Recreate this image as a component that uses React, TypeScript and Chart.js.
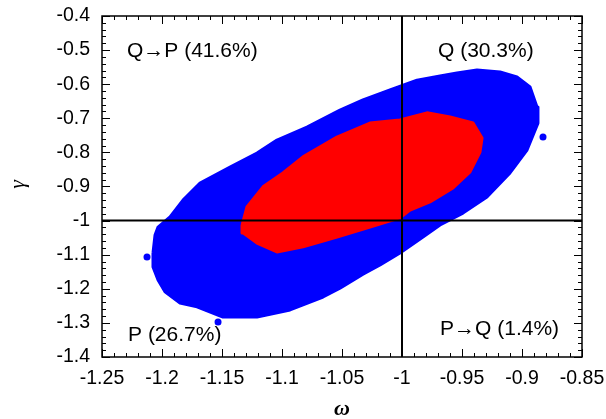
import React, { useEffect, useRef } from "react";
import { Chart, registerables } from "chart.js";

Chart.register(...registerables);

// Axis ticks
const xTickValues = [-1.25, -1.2, -1.15, -1.1, -1.05, -1, -0.95, -0.9, -0.85];
const xTickLabels = ["-1.25", "-1.2", "-1.15", "-1.1", "-1.05", "-1", "-0.95", "-0.9", "-0.85"];
const yTickValues = [-1.4, -1.3, -1.2, -1.1, -1, -0.9, -0.8, -0.7, -0.6, -0.5, -0.4];
const yTickLabels = ["-1.4", "-1.3", "-1.2", "-1.1", "-1", "-0.9", "-0.8", "-0.7", "-0.6", "-0.5", "-0.4"];
const xMinorStep = 0.01;
const yMinorStep = 0.02;

// Outer (blue) sample cloud outline (omega, gamma)
const blueX = [-1.2075, -1.2058, -1.2033, -1.1933, -1.1825, -1.1683, -1.1433, -1.1208, -1.1042, -1.0792, -1.0517, -1.0325, -1.01, -0.9875, -0.9683, -0.9542, -0.9375, -0.9183, -0.9042, -0.8933, -0.8875, -0.8867, -0.8958, -0.91, -0.9292, -0.9492, -0.9683, -0.9825, -1.0017, -1.0183, -1.0325, -1.0517, -1.0658, -1.0933, -1.1208, -1.1492, -1.1708, -1.185, -1.1975, -1.2033, -1.2075];
const blueY = [-1.095, -1.042, -1.019, -0.989, -0.94, -0.89, -0.843, -0.802, -0.764, -0.726, -0.676, -0.646, -0.617, -0.588, -0.576, -0.567, -0.558, -0.564, -0.579, -0.608, -0.667, -0.714, -0.793, -0.86, -0.931, -0.978, -1.013, -1.048, -1.095, -1.13, -1.157, -1.198, -1.224, -1.262, -1.283, -1.283, -1.253, -1.242, -1.209, -1.174, -1.136];

// Inner (red) sample cloud outline
const redX = [-1.1333, -1.1292, -1.1158, -1.0992, -1.0825, -1.0542, -1.0267, -1.0017, -0.9792, -0.96, -0.9408, -0.9333, -0.935, -0.9433, -0.9575, -0.9767, -0.9933, -1.0017, -1.0267, -1.0542, -1.0825, -1.1042, -1.1208, -1.1325];
const redY = [-1.013, -0.96, -0.901, -0.86, -0.813, -0.755, -0.714, -0.705, -0.684, -0.696, -0.714, -0.758, -0.799, -0.857, -0.904, -0.945, -0.969, -0.992, -1.019, -1.048, -1.077, -1.092, -1.066, -1.036];

// Isolated outlying samples
const strayX = [-1.2125, -0.8825, -1.1533];
const strayY = [-1.1067, -0.755, -1.297];

// Quadrant divider lines
const vLineX = [-1, -1];
const vLineY = [-1.4, -0.4];
const hLineX = [-1.25, -0.85];
const hLineY = [-1, -1];

// Quadrant annotations
const noteTexts = ["Q\u2192P (41.6%)", "Q (30.3%)", "P (26.7%)", "P\u2192Q (1.4%)"];
const noteX = [-1.2292, -0.97, -1.2283, -0.9683];
const noteY = [-0.52, -0.52, -1.353, -1.3355];

const SANS = "'Liberation Sans', Arial, Helvetica, sans-serif";
const SERIF = "'Liberation Serif', 'Times New Roman', serif";

const toPts = (xs: number[], ys: number[], close: boolean) => {
  const pts = xs.map((x, i) => ({ x, y: ys[i] }));
  if (close) pts.push({ x: xs[0], y: ys[0] });
  return pts;
};

const decorPlugin = {
  id: "decor",
  afterDraw(chart: any) {
    const { ctx, chartArea: a, scales } = chart;
    const xs = scales.x;
    const ys = scales.y;
    ctx.save();
    ctx.strokeStyle = "#000";
    ctx.lineWidth = 1;
    const seg = (x1: number, y1: number, x2: number, y2: number) => {
      ctx.beginPath();
      ctx.moveTo(x1, y1);
      ctx.lineTo(x2, y2);
      ctx.stroke();
    };
    const nx = Math.round((xs.max - xs.min) / xMinorStep);
    for (let i = 0; i <= nx; i++) {
      const v = xs.min + i * xMinorStep;
      const px = Math.round(xs.getPixelForValue(v)) + 0.5;
      const len = i % 5 === 0 ? 8 : 4;
      seg(px, a.bottom, px, a.bottom - len);
      seg(px, a.top, px, a.top + len);
    }
    const ny = Math.round((ys.max - ys.min) / yMinorStep);
    for (let i = 0; i <= ny; i++) {
      const v = ys.min + i * yMinorStep;
      const py = Math.round(ys.getPixelForValue(v)) + 0.5;
      const len = i % 5 === 0 ? 8 : 4;
      seg(a.left, py, a.left + len, py);
      seg(a.right, py, a.right - len, py);
    }
    ctx.lineWidth = 1.5;
    ctx.strokeRect(a.left, a.top, a.right - a.left, a.bottom - a.top);

    ctx.fillStyle = "#000";
    ctx.font = `21px ${SANS}`;
    ctx.textAlign = "left";
    ctx.textBaseline = "alphabetic";
    noteTexts.forEach((t, i) => {
      ctx.fillText(t, xs.getPixelForValue(noteX[i]), ys.getPixelForValue(noteY[i]));
    });

    ctx.textAlign = "center";
    ctx.textBaseline = "middle";
    ctx.font = `bold italic 22px ${SERIF}`;
    ctx.fillText("\u03c9", (a.left + a.right) / 2, 409);
    ctx.save();
    ctx.translate(18, (a.top + a.bottom) / 2 - 2);
    ctx.rotate(-Math.PI / 2);
    ctx.font = `italic 22px ${SERIF}`;
    ctx.fillText("\u03b3", 0, 0);
    ctx.restore();
    ctx.restore();
  },
};

const zeroPad = (s: any) => {
  s.paddingLeft = 0;
  s.paddingRight = 0;
  s.paddingTop = 0;
  s.paddingBottom = 0;
};

export default function App() {
  const ref = useRef<HTMLCanvasElement | null>(null);
  useEffect(() => {
    if (!ref.current) return;
    const chart = new Chart(ref.current, {
      type: "scatter",
      data: {
        datasets: [
          {
            label: "vline",
            data: toPts(vLineX, vLineY, false),
            showLine: true,
            borderColor: "#000",
            borderWidth: 2,
            pointRadius: 0,
            order: 0,
          },
          {
            label: "hline",
            data: toPts(hLineX, hLineY, false),
            showLine: true,
            borderColor: "#000",
            borderWidth: 2,
            pointRadius: 0,
            order: 0,
          },
          {
            label: "inner",
            data: toPts(redX, redY, true),
            showLine: true,
            fill: "shape",
            borderColor: "#ff0000",
            backgroundColor: "#ff0000",
            borderWidth: 3,
            borderJoinStyle: "round",
            pointRadius: 0,
            tension: 0,
            order: 1,
          },
          {
            label: "outer",
            data: toPts(blueX, blueY, true),
            showLine: true,
            fill: "shape",
            borderColor: "#0000ff",
            backgroundColor: "#0000ff",
            borderWidth: 3,
            borderJoinStyle: "round",
            pointRadius: 0,
            tension: 0,
            order: 2,
          },
          {
            label: "stray",
            data: toPts(strayX, strayY, false),
            showLine: false,
            pointRadius: 3.5,
            pointBackgroundColor: "#0000ff",
            pointBorderWidth: 0,
            order: 2,
          },
        ],
      },
      options: {
        responsive: false,
        animation: false,
        devicePixelRatio: 1,
        layout: { padding: { left: 0, right: 24, top: 16, bottom: 0 } },
        plugins: {
          legend: { display: false },
          tooltip: { enabled: false },
        },
        scales: {
          x: {
            type: "linear",
            min: -1.25,
            max: -0.85,
            grid: { display: false, drawTicks: false },
            border: { display: false },
            afterBuildTicks: (s: any) => {
              s.ticks = xTickValues.map((v) => ({ value: v }));
            },
            afterFit: (s: any) => {
              s.height = 62;
              zeroPad(s);
            },
            ticks: {
              callback: (_v: any, i: number) => xTickLabels[i],
              font: { family: SANS, size: 19.5 },
              color: "#000",
              padding: 10,
              maxRotation: 0,
              autoSkip: false,
            },
          },
          y: {
            type: "linear",
            min: -1.4,
            max: -0.4,
            grid: { display: false, drawTicks: false },
            border: { display: false },
            afterBuildTicks: (s: any) => {
              s.ticks = yTickValues.map((v) => ({ value: v }));
            },
            afterFit: (s: any) => {
              s.width = 102;
              zeroPad(s);
            },
            ticks: {
              callback: (_v: any, i: number) => yTickLabels[i],
              font: { family: SANS, size: 19.5 },
              color: "#000",
              padding: 12,
              autoSkip: false,
            },
          },
        },
      },
      plugins: [decorPlugin],
    } as any);
    return () => chart.destroy();
  }, []);
  return (
    <div style={{ position: "absolute", left: 0, top: 0, width: 606, height: 419, background: "#fff" }}>
      <canvas ref={ref} width={606} height={419} style={{ display: "block", width: 606, height: 419 }} />
    </div>
  );
}
